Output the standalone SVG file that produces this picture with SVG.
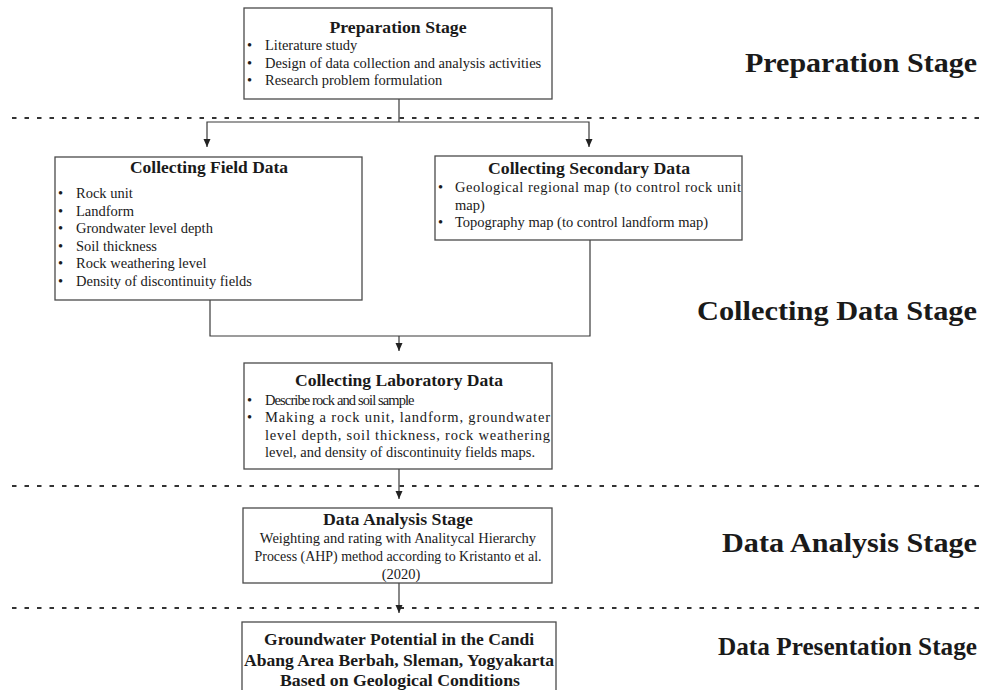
<svg xmlns="http://www.w3.org/2000/svg" width="983" height="690" viewBox="0 0 983 690">
<style>
.box{fill:#fff;stroke:#4a4a4a;stroke-width:1.3}
.t{font-family:"Liberation Serif","Times New Roman",serif;fill:#1a1a1a}
.title{font-size:17px;font-weight:bold;text-anchor:middle}
.body{font-size:14.5px}
.stage{font-family:"Liberation Serif","Times New Roman",serif;font-size:27px;font-weight:bold;fill:#1a1a1a;text-anchor:end}
.conn{fill:none;stroke:#3a3a3a;stroke-width:1.2}
.sep{stroke:#333;stroke-width:2;stroke-dasharray:4.5 8}
.final{font-size:17.5px;font-weight:bold;text-anchor:middle}
</style>
<defs>
<marker id="arr" markerUnits="userSpaceOnUse" markerWidth="9" markerHeight="9" refX="8" refY="4" orient="auto">
<path d="M0,0.5 L8,4 L0,7.5 z" fill="#222"/>
</marker>
</defs>
<rect width="983" height="690" fill="#fff"/>

<g id="separators">
<line class="sep" x1="12" y1="118" x2="983" y2="118"/>
<line class="sep" x1="12" y1="486" x2="983" y2="486"/>
<line class="sep" x1="12" y1="608" x2="983" y2="608"/>
</g>

<g id="stage-labels">
<text class="stage" x="977" y="72" textLength="232" lengthAdjust="spacingAndGlyphs">Preparation Stage</text>
<text class="stage" x="977" y="320" textLength="280" lengthAdjust="spacingAndGlyphs">Collecting Data Stage</text>
<text class="stage" x="977" y="552" textLength="255" lengthAdjust="spacingAndGlyphs">Data Analysis Stage</text>
<text class="stage" x="977" y="655" style="font-size:26px" textLength="259" lengthAdjust="spacingAndGlyphs">Data Presentation Stage</text>
</g>

<g id="connectors">
<path class="conn" d="M399,99 V122"/>
<path class="conn" d="M399,122 H207 V147" marker-end="url(#arr)"/>
<path class="conn" d="M399,122 H589 V147" marker-end="url(#arr)"/>
<path class="conn" d="M210,300 V336 H590 V240"/>
<path class="conn" d="M399,336 V351" marker-end="url(#arr)"/>
<path class="conn" d="M399,469 V499" marker-end="url(#arr)"/>
<path class="conn" d="M399,583 V613" marker-end="url(#arr)"/>
</g>

<g id="node-preparation">
<rect class="box" x="244" y="8" width="308" height="91"/>
<text class="t title" x="398" y="33" textLength="137" lengthAdjust="spacingAndGlyphs">Preparation Stage</text>
<g class="t body">
<text x="247" y="50">•</text><text x="265" y="50">Literature study</text>
<text x="247" y="67.5">•</text><text x="265" y="67.5">Design of data collection and analysis activities</text>
<text x="247" y="85">•</text><text x="265" y="85">Research problem formulation</text>
</g>
</g>

<g id="node-field">
<rect class="box" x="55" y="157" width="307" height="143"/>
<text class="t title" x="209" y="173" textLength="158" lengthAdjust="spacingAndGlyphs">Collecting Field Data</text>
<g class="t body">
<text x="58" y="198">•</text><text x="76" y="198">Rock unit</text>
<text x="58" y="215.5">•</text><text x="76" y="215.5">Landform</text>
<text x="58" y="233">•</text><text x="76" y="233">Grondwater level depth</text>
<text x="58" y="250.5">•</text><text x="76" y="250.5">Soil thickness</text>
<text x="58" y="268">•</text><text x="76" y="268">Rock weathering level</text>
<text x="58" y="285.5">•</text><text x="76" y="285.5">Density of discontinuity fields</text>
</g>
</g>

<g id="node-secondary">
<rect class="box" x="435" y="156" width="307" height="84"/>
<text class="t title" x="589" y="174" textLength="202" lengthAdjust="spacingAndGlyphs">Collecting Secondary Data</text>
<g class="t body">
<text x="438" y="192">•</text><text x="455" y="192" textLength="286" lengthAdjust="spacing">Geological regional map (to control rock unit</text>
<text x="455" y="210">map)</text>
<text x="438" y="227">•</text><text x="455" y="227">Topography map (to control landform map)</text>
</g>
</g>

<g id="node-laboratory">
<rect class="box" x="244" y="363" width="308" height="106"/>
<text class="t title" x="399" y="386" textLength="208" lengthAdjust="spacingAndGlyphs">Collecting Laboratory Data</text>
<g class="t body">
<text x="247" y="405">•</text><text x="265" y="405" style="letter-spacing:-0.9px">Describe rock and soil sample</text>
<text x="247" y="422">•</text><text x="265" y="422" textLength="285" lengthAdjust="spacing">Making a rock unit, landform, groundwater</text>
<text x="265" y="439.5" textLength="285" lengthAdjust="spacing">level depth, soil thickness, rock weathering</text>
<text x="265" y="457" textLength="270" lengthAdjust="spacingAndGlyphs">level, and density of discontinuity fields maps.</text>
</g>
</g>

<g id="node-analysis">
<rect class="box" x="243" y="508" width="309" height="75"/>
<text class="t title" x="398" y="525" textLength="150" lengthAdjust="spacingAndGlyphs">Data Analysis Stage</text>
<g class="t body" text-anchor="middle">
<text x="398" y="543">Weighting and rating with Analitycal Hierarchy</text>
<text x="398" y="561" textLength="287" lengthAdjust="spacingAndGlyphs">Process (AHP) method according to Kristanto et al.</text>
<text x="401" y="579">(2020)</text>
</g>
</g>

<g id="node-presentation">
<rect class="box" x="242" y="622" width="314" height="90"/>
<g class="t final">
<text x="399" y="645" textLength="270" lengthAdjust="spacingAndGlyphs">Groundwater Potential in the Candi</text>
<text x="399" y="666" textLength="310" lengthAdjust="spacingAndGlyphs">Abang Area Berbah, Sleman, Yogyakarta</text>
<text x="400" y="686" textLength="240" lengthAdjust="spacingAndGlyphs">Based on Geological Conditions</text>
</g>
</g>
</svg>
